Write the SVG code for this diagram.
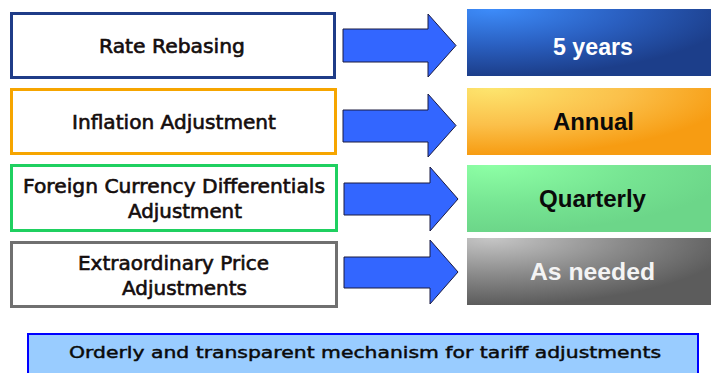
<svg xmlns="http://www.w3.org/2000/svg" width="711" height="373" viewBox="0 0 711 373">
  <defs>
    <!-- shaded fills for the frequency panels: bright top-left corner fading outward -->
    <radialGradient id="gBlue" cx="0.1" cy="0" r="1" fx="0.1" fy="0">
      <stop offset="0" stop-color="#3d8cfa"/>
      <stop offset="0.55" stop-color="#2a5fc0"/>
      <stop offset="1" stop-color="#1c3e8a"/>
    </radialGradient>
    <radialGradient id="gOrange" cx="0.1" cy="0" r="1" fx="0.1" fy="0">
      <stop offset="0" stop-color="#fde56e"/>
      <stop offset="0.55" stop-color="#fbc04a"/>
      <stop offset="1" stop-color="#f79c12"/>
    </radialGradient>
    <radialGradient id="gGreen" cx="0.1" cy="0" r="1" fx="0.1" fy="0">
      <stop offset="0" stop-color="#8dffa5"/>
      <stop offset="0.6" stop-color="#76e492"/>
      <stop offset="1" stop-color="#6cd689"/>
    </radialGradient>
    <radialGradient id="gGray" cx="0.1" cy="0" r="1" fx="0.1" fy="0">
      <stop offset="0" stop-color="#c6c6c6"/>
      <stop offset="0.55" stop-color="#8a8a8a"/>
      <stop offset="1" stop-color="#5c5c5c"/>
    </radialGradient>
  </defs>
  <style>
    .box { fill: #ffffff; stroke-width: 3; }
    .lbl { font-family: "DejaVu Sans", "Liberation Sans", sans-serif; font-size: 19px; fill: #140d0d; stroke: #140d0d; stroke-width: 0.6; text-anchor: middle; }
    .freq { font-family: "Liberation Sans", Arial, sans-serif; font-weight: bold; font-size: 24px; text-anchor: middle; }
    .arrow { fill: #3366ff; stroke: #1a1a40; stroke-width: 1; stroke-linejoin: miter; }
    .note { font-family: "DejaVu Sans", "Liberation Sans", sans-serif; font-size: 16px; fill: #0a0a0a; stroke: #0a0a0a; stroke-width: 0.45; text-anchor: middle; }
  </style>

  <rect width="711" height="373" fill="#ffffff"/>

  <!-- adjustment types -->
  <g id="rate-rebasing">
    <rect class="box" x="11.5" y="13.5" width="323" height="64" stroke="#1f3c88"/>
    <text class="lbl" x="172" y="53" textLength="146" lengthAdjust="spacingAndGlyphs">Rate Rebasing</text>
  </g>
  <g id="inflation-adjustment">
    <rect class="box" x="11.5" y="89.5" width="324" height="64" stroke="#f6a500"/>
    <text class="lbl" x="174" y="129" textLength="204" lengthAdjust="spacingAndGlyphs">Inflation Adjustment</text>
  </g>
  <g id="fx-differentials">
    <rect class="box" x="11.5" y="165.5" width="325" height="65" stroke="#1fd060"/>
    <text class="lbl" x="174" y="193" textLength="302" lengthAdjust="spacingAndGlyphs">Foreign Currency Differentials</text>
    <text class="lbl" x="185" y="218" textLength="114" lengthAdjust="spacingAndGlyphs">Adjustment</text>
  </g>
  <g id="extraordinary-price">
    <rect class="box" x="11.5" y="242.5" width="325" height="64" stroke="#707070"/>
    <text class="lbl" x="173.5" y="270" textLength="191" lengthAdjust="spacingAndGlyphs">Extraordinary Price</text>
    <text class="lbl" x="184.5" y="295" textLength="125" lengthAdjust="spacingAndGlyphs">Adjustments</text>
  </g>

  <!-- block arrows linking each type to its frequency -->
  <g id="connectors">
    <path class="arrow" d="M343,29 H428 V14 L456,45.5 L428,77 V62 H343 Z"/>
    <path class="arrow" d="M343,110 H428 V94 L456,125.5 L428,157 V142 H343 Z"/>
    <path class="arrow" d="M344,183 H430 V167 L458,199 L430,231 V215 H344 Z"/>
    <path class="arrow" d="M344,257 H430 V240 L458,272 L430,304 V288 H344 Z"/>
  </g>

  <!-- frequencies -->
  <g id="five-years">
    <rect x="467" y="9" width="244" height="67" fill="url(#gBlue)"/>
    <text class="freq" x="593" y="55" fill="#ffffff" textLength="80" lengthAdjust="spacingAndGlyphs">5 years</text>
  </g>
  <g id="annual">
    <rect x="467" y="88" width="244" height="67" fill="url(#gOrange)"/>
    <text class="freq" x="593.5" y="130" fill="#0a0a0a" textLength="81" lengthAdjust="spacingAndGlyphs">Annual</text>
  </g>
  <g id="quarterly">
    <rect x="467" y="165" width="244" height="67" fill="url(#gGreen)"/>
    <text class="freq" x="592.5" y="207" fill="#0a0a0a" textLength="107" lengthAdjust="spacingAndGlyphs">Quarterly</text>
  </g>
  <g id="as-needed">
    <rect x="467" y="238" width="244" height="67" fill="url(#gGray)"/>
    <text class="freq" x="592.5" y="280" fill="#f4f4f4" textLength="125" lengthAdjust="spacingAndGlyphs">As needed</text>
  </g>

  <!-- summary banner -->
  <g id="summary">
    <rect x="28" y="334" width="670" height="46" fill="#99ccff" stroke="#0000ff" stroke-width="2"/>
    <text class="note" x="365" y="358" textLength="592" lengthAdjust="spacingAndGlyphs">Orderly and transparent mechanism for tariff adjustments</text>
  </g>
</svg>
